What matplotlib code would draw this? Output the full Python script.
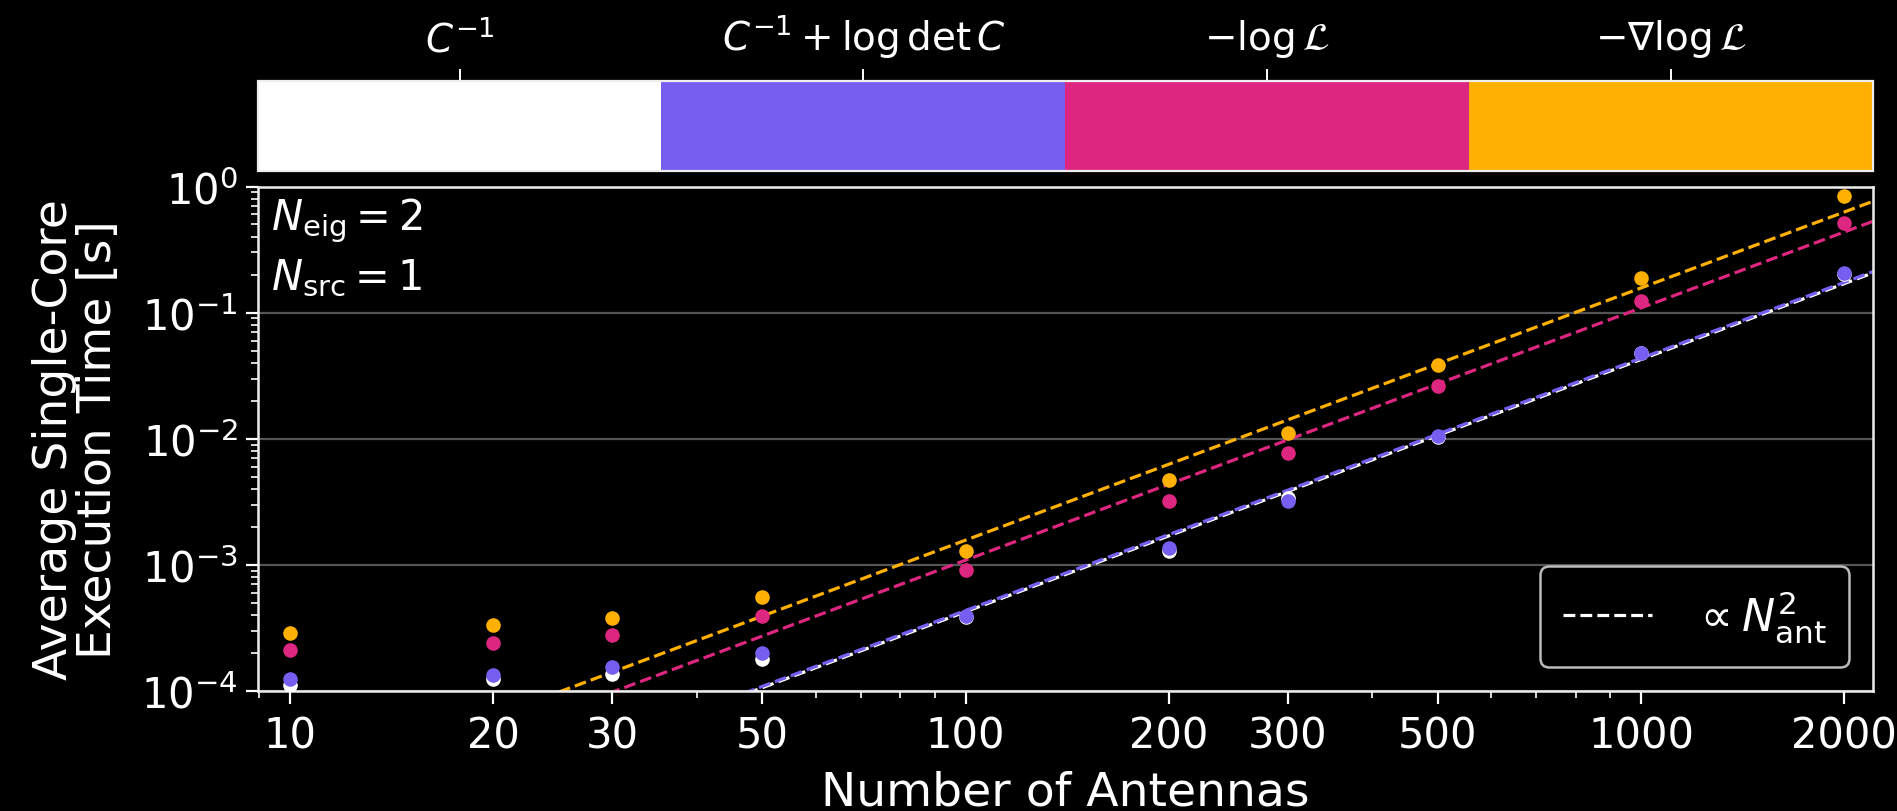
import numpy as np
import matplotlib
import matplotlib.pyplot as plt
import matplotlib.colors as mcolors
import matplotlib.ticker as mticker
from matplotlib.cm import ScalarMappable
from matplotlib.lines import Line2D

plt.style.use("dark_background")
plt.rcParams["font.family"] = ["DejaVu Sans"]
plt.rcParams["mathtext.fontset"] = "dejavusans"

# -------------------------------------------------------------------
# DATA
# -------------------------------------------------------------------
n_ant = [10, 20, 30, 50, 100, 200, 300, 500, 1000, 2000]

t_inv = [1.11e-4, 1.25e-4, 1.37e-4, 1.81e-4, 3.85e-4, 1.30e-3, 3.40e-3, 1.04e-2, 4.75e-2, 2.04e-1]
t_logdet = [1.25e-4, 1.33e-4, 1.54e-4, 2.00e-4, 3.96e-4, 1.355e-3, 3.20e-3, 1.05e-2, 4.82e-2, 2.07e-1]
t_nll = [2.10e-4, 2.42e-4, 2.78e-4, 3.96e-4, 9.10e-4, 3.20e-3, 7.64e-3, 2.62e-2, 1.245e-1, 5.18e-1]
t_grad = [2.90e-4, 3.32e-4, 3.80e-4, 5.55e-4, 1.28e-3, 4.67e-3, 1.115e-2, 3.82e-2, 1.875e-1, 8.34e-1]

# prefactors of the N^2 guide lines
fit_coef = [4.25e-8, 4.35e-8, 1.09e-7, 1.57e-7]

series = [t_inv, t_logdet, t_nll, t_grad]
labels = [r"$C^{-1}$", r"$C^{-1} + \log\det C$", r"$-\log\mathcal{L}$", r"$-\nabla\log\mathcal{L}$"]
colors = ["#FFFFFF", "#785EF0", "#DC267F", "#FFB000"]

x_ticks = [10, 20, 30, 50, 100, 200, 300, 500, 1000, 2000]

# -------------------------------------------------------------------
# FIGURE
# -------------------------------------------------------------------
W, H = 1897, 812
fig = plt.figure(figsize=(W / 100, H / 100), dpi=100)
fig.patch.set_facecolor("black")

ax_l, ax_r, ax_t, ax_b = 257.6, 1873, 187.5, 692
ax = fig.add_axes([ax_l / W, 1 - ax_b / H, (ax_r - ax_l) / W, (ax_b - ax_t) / H])
cax = fig.add_axes([ax_l / W, 1 - 172 / H, (ax_r - ax_l) / W, (172 - 82) / H])

ax.set_facecolor("black")
ax.set_xscale("log")
ax.set_yscale("log")
ax.set_xlim(8.95, 2205)
ax.set_ylim(1e-4, 1e0)

x_line = np.logspace(np.log10(8.95), np.log10(2205), 200)
for y, c, k in zip(series, colors, fit_coef):
    ax.plot(x_line, k * x_line**2, ls="--", color=c, lw=2.3, zorder=2)
    ax.plot(n_ant, y, "o", color=c, ms=10.5, mec="none", zorder=3)

ax.xaxis.set_major_locator(mticker.FixedLocator(x_ticks))
ax.xaxis.set_major_formatter(mticker.FixedFormatter([str(v) for v in x_ticks]))
ax.xaxis.set_minor_locator(mticker.LogLocator(base=10, subs=np.arange(2, 10)))
ax.xaxis.set_minor_formatter(mticker.NullFormatter())

ax.tick_params(which="major", length=9, width=1.6, labelsize=30, colors="white", pad=5)
ax.tick_params(axis="x", which="major", pad=8)
ax.tick_params(which="minor", length=5, width=1.2, colors="white")
for sp in ax.spines.values():
    sp.set_color("#EEEEEE")
    sp.set_linewidth(1.8)

ax.yaxis.grid(True, which="major", color="#555555", lw=1.6)
ax.set_axisbelow(True)

ax.set_xlabel("Number of Antennas", fontsize=34, labelpad=9)
ax.set_ylabel("Average Single-Core\nExecution Time [s]", fontsize=34, labelpad=15, linespacing=0.95)

ax.text(0.008, 0.934, r"$N_{\rm eig} = 2$", transform=ax.transAxes, fontsize=30,
        va="center", ha="left", color="white")
ax.text(0.008, 0.821, r"$N_{\rm src} = 1$", transform=ax.transAxes, fontsize=30,
        va="center", ha="left", color="white")

handles = [Line2D([0], [0], ls="--", color="white", lw=2.3)]
leg = ax.legend(handles, [r"$\propto N_{\rm ant}^2$"], loc="lower right", fontsize=32,
                handlelength=2.0, handletextpad=0.9, borderpad=0.5, borderaxespad=0.55,
                frameon=True, fancybox=True)
leg.get_frame().set_facecolor("black")
leg.get_frame().set_edgecolor("#BBBBBB")
leg.get_frame().set_linewidth(1.8)
leg.get_frame().set_alpha(1)

# colour key on top
cmap = mcolors.ListedColormap(colors)
norm = mcolors.BoundaryNorm(np.arange(len(colors) + 1), cmap.N)
cb = fig.colorbar(ScalarMappable(norm=norm, cmap=cmap), cax=cax, orientation="horizontal",
                  ticklocation="top")
cb.set_ticks(np.arange(len(colors)) + 0.5, labels=labels)
cb.ax.tick_params(length=9, width=1.4, labelsize=28, colors="white", pad=7)
cb.ax.minorticks_off()
cb.outline.set_edgecolor("#EEEEEE")
cb.outline.set_linewidth(1.6)

fig.savefig("out.png", dpi=100, facecolor="black")
